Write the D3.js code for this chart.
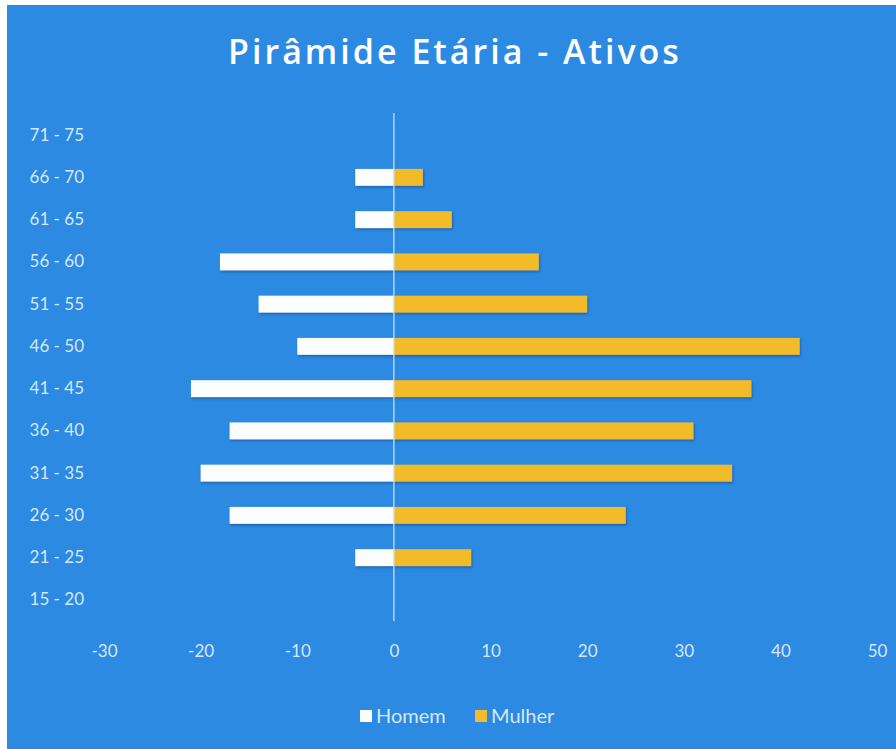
<!DOCTYPE html>
<html><head><meta charset="utf-8">
<script src="https://cdn.jsdelivr.net/npm/d3@7"></script>
<style>
html,body{margin:0;padding:0;background:#fff;}
svg{display:block;}
</style></head>
<body>
<script>
const categories = ["15 - 20","21 - 25","26 - 30","31 - 35","36 - 40","41 - 45","46 - 50","51 - 55","56 - 60","61 - 65","66 - 70","71 - 75"];
const homem  = [0, -4, -17, -20, -17, -21, -10, -14, -18, -4, -4, 0];
const mulher = [0,  8,  24,  35,  31,  37,  42,  20,  15,  6,  3, 0];
const xTicks = [-30,-20,-10,0,10,20,30,40,50];
const seriesNames = ["Homem","Mulher"];
const colors = {Homem:"#fbfdff", Mulher:"#f2bb2c"};

const W = 896, H = 749;
const svg = d3.select("body").append("svg").attr("width", W).attr("height", H);
const defs = svg.append("defs");
const f = defs.append("filter").attr("id","sh").attr("x","-5%").attr("y","-30%").attr("width","110%").attr("height","170%");
f.append("feDropShadow").attr("dx",1).attr("dy",1.5).attr("stdDeviation",1).attr("flood-color","#0a3f7a").attr("flood-opacity",0.55);

svg.append("rect").attr("x",7).attr("y",5).attr("width",W-7).attr("height",H-5).attr("fill","#2c8ae2");

const x = d3.scaleLinear().domain([-30,50]).range([104,877]);
const y = d3.scaleBand().domain(categories.slice().reverse()).range([114,621]).paddingInner(0.6).paddingOuter(0.3);

const rows = categories.map((c,i)=>({c, h:homem[i], m:mulher[i]}));

const gBars = svg.append("g").attr("filter","url(#sh)");
gBars.selectAll("rect.h").data(rows).join("rect").attr("class","h")
  .attr("x", d=>x(Math.min(0,d.h))).attr("width", d=>Math.abs(x(d.h)-x(0)))
  .attr("y", d=>y(d.c)).attr("height", y.bandwidth()).attr("fill", colors.Homem);
gBars.selectAll("rect.m").data(rows).join("rect").attr("class","m")
  .attr("x", d=>x(0)).attr("width", d=>Math.abs(x(d.m)-x(0)))
  .attr("y", d=>y(d.c)).attr("height", y.bandwidth()).attr("fill", colors.Mulher);

// zero axis line
svg.append("line").attr("x1",x(0)).attr("x2",x(0)).attr("y1",113).attr("y2",621)
  .attr("stroke","#cfe5f8").attr("stroke-width",1.2);

// y axis labels
const yAxis = d3.axisLeft(y).tickSize(0).tickPadding(0);
const gy = svg.append("g").attr("transform","translate(84,0)").call(yAxis);
gy.select(".domain").remove();
gy.selectAll("text").attr("fill","#d6e8f8").attr("font-family","Lato, 'Open Sans', sans-serif").attr("font-size",17);

// x axis labels
const xAxis = d3.axisBottom(x).tickValues(xTicks).tickSize(0).tickPadding(0).tickFormat(d=>String(d));
const gx = svg.append("g").attr("transform","translate(0,645)").call(xAxis);
gx.select(".domain").remove();
gx.selectAll("text").attr("fill","#d6e8f8").attr("font-family","Lato, 'Open Sans', sans-serif").attr("font-size",17).attr("dy","0.71em");

// title
svg.append("text").attr("x",455).attr("y",64).attr("text-anchor","middle")
  .attr("fill","#ffffff").attr("font-family","'Open Sans', Lato, sans-serif").attr("font-weight",600)
  .attr("font-size",34).attr("letter-spacing",3).text("Pirâmide Etária - Ativos");

// legend
const leg = svg.append("g").attr("font-family","Lato, 'Open Sans', sans-serif").attr("font-size",20);
const legItems = [{n:seriesNames[0], x:360},{n:seriesNames[1], x:475}];
legItems.forEach(it=>{
  leg.append("rect").attr("x",it.x).attr("y",710).attr("width",12).attr("height",12).attr("fill",colors[it.n]);
  leg.append("text").attr("x",it.x+16).attr("y",723).attr("fill","#d6e8f8").text(it.n);
});
</script>
</body></html>
